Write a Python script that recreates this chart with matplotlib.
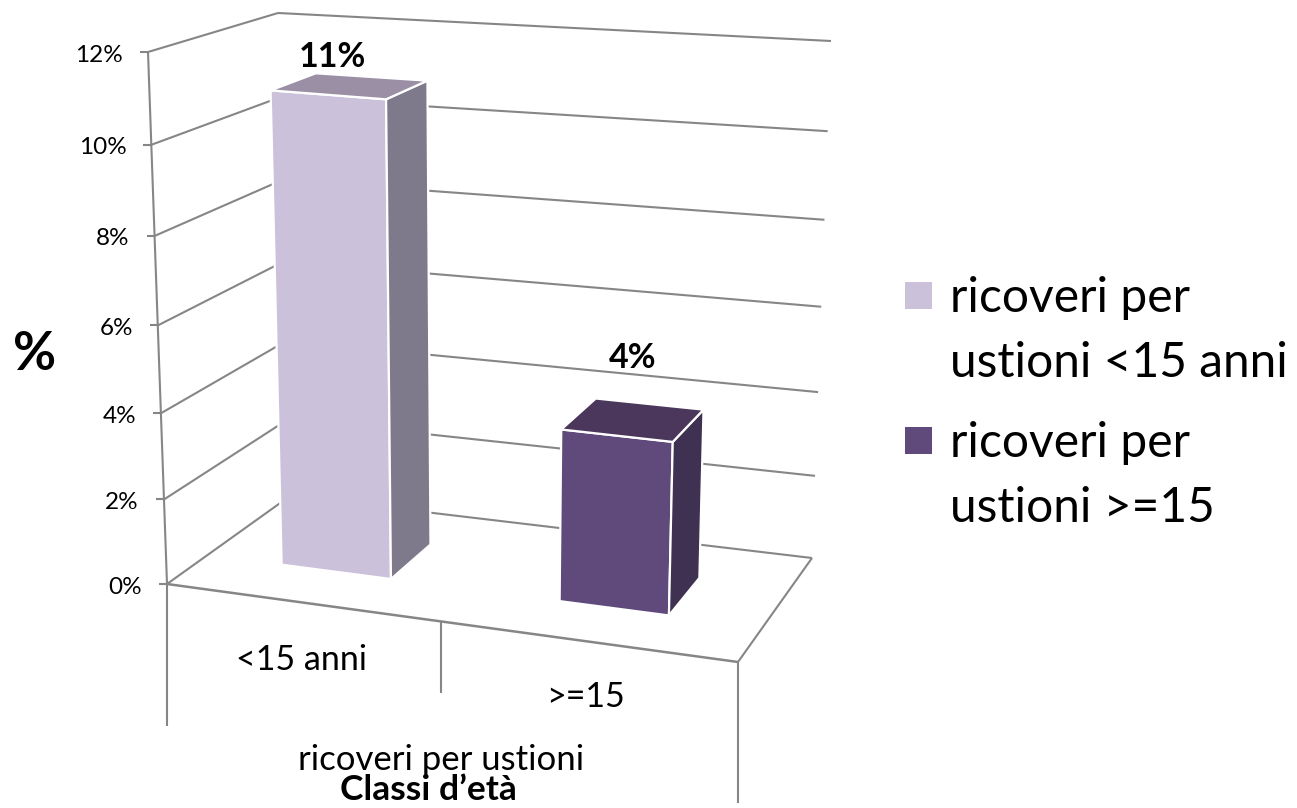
# 3D column chart of burn admissions by age class
import numpy as np
import matplotlib.pyplot as plt
from matplotlib.patches import Polygon, Rectangle

plt.rcParams['font.family'] = ['Lato', 'DejaVu Sans']

# Data
categories = ["<15 anni", ">=15"]
values = [11, 4]
value_labels = ["11%", "4%"]
series_names = ["ricoveri per\nustioni <15 anni", "ricoveri per\nustioni >=15"]
axis_ticks = [0, 2, 4, 6, 8, 10, 12]
axis_title = "ricoveri per ustioni"
x_title = "Classi d\u2019et\u00e0"
y_title = "%"

# Colours per bar: front, side, top
front_cols = ["#CCC1DA", "#604A7B"]
side_cols = ["#7F7A8B", "#3F3151"]
top_cols = ["#9A8FA5", "#4A375B"]
grid_col = "#868686"

# Pixel corners of the chart box, (u, v, z) in 0..1
# u runs along the categories, v runs into the page, z runs up
floor_px = {(0, 0): (167, 584), (1, 0): (738, 662), (1, 1): (812, 558), (0, 1): (290, 496)}
roof_px = {(0, 0): (148, 52), (1, 0): (755, 102), (1, 1): (831, 41), (0, 1): (278, 13)}
zmax = 12
bar_centers = [0.232, 0.733]
bar_width = 0.197
bar_depth = (0.33, 0.70)
divider_u = 0.48


def proj(u, v, val):
    """Chart position to pixel, bilinear on the floor and roof, slight bend on z"""
    z = val / zmax
    z = z + 0.056 * z * (z - 1)
    def corners(c):
        a = np.array(c[(0, 0)], float) * (1 - u) + np.array(c[(1, 0)], float) * u
        b = np.array(c[(0, 1)], float) * (1 - u) + np.array(c[(1, 1)], float) * u
        return a * (1 - v) + b * v
    return corners(floor_px) * (1 - z) + corners(roof_px) * z


def seg(ax, p, q, lw=1.5, col=grid_col, zorder=1):
    ax.plot([p[0], q[0]], [p[1], q[1]], color=col, lw=lw, zorder=zorder,
            solid_capstyle='butt')


fig = plt.figure(figsize=(12.97, 8.08), dpi=100)
ax = fig.add_axes([0, 0, 1, 1])
ax.set_xlim(0, 1297)
ax.set_ylim(808, 0)
ax.axis('off')

# Walls and gridlines
for t in axis_ticks:
    front = proj(0, 0, t)
    back = proj(0, 1, t)
    right = proj(1, 1, t)
    seg(ax, front, back)
    seg(ax, back, right)
    seg(ax, front + [-8, 0], front)
    ax.text(front[0] - 25, front[1] + 3, "%d%%" % t, ha='right', va='center',
            fontsize=17.5, color='black')
seg(ax, proj(0, 0, 0), proj(0, 0, zmax))

# Floor front and right edge, drop lines under the categories
seg(ax, proj(0, 0, 0), proj(1, 0, 0), lw=1.8)
seg(ax, proj(1, 0, 0), proj(1, 1, 0))
for u, drop in [(0, 142), (divider_u, 72), (1, 141)]:
    p = proj(u, 0, 0)
    seg(ax, p, p + [0, drop])

# Bars
for i, val in enumerate(values):
    u0 = bar_centers[i] - bar_width / 2
    u1 = bar_centers[i] + bar_width / 2
    v0, v1 = bar_depth
    faces = [
        ([(u0, v0, 0), (u1, v0, 0), (u1, v0, val), (u0, v0, val)], front_cols[i]),
        ([(u1, v0, 0), (u1, v1, 0), (u1, v1, val), (u1, v0, val)], side_cols[i]),
        ([(u0, v0, val), (u1, v0, val), (u1, v1, val), (u0, v1, val)], top_cols[i]),
    ]
    for pts, col in faces:
        xy = [proj(*p) for p in pts]
        ax.add_patch(Polygon(xy, closed=True, facecolor=col, edgecolor='white',
                             lw=1.6, zorder=3, joinstyle='round'))

# Value labels
for lab, (x, y) in zip(value_labels, [(332, 57), (633, 358)]):
    ax.text(x, y, lab, ha='center', va='center', fontsize=24.5, fontweight='bold', zorder=4)

# Category labels and titles
for lab, (x, y) in zip(categories, [(301, 660), (586, 697)]):
    ax.text(x, y, lab, ha='center', va='center', fontsize=24.5)
ax.text(441, 760, axis_title, ha='center', va='center', fontsize=25)
ax.text(428, 790, x_title, ha='center', va='center', fontsize=25.5, fontweight='bold')
ax.text(35, 354, y_title, ha='center', va='center', fontsize=38, fontweight='bold')

# Legend
legend_y = [282, 427]
for i, name in enumerate(series_names):
    y0 = legend_y[i]
    ax.add_patch(Rectangle((905, y0), 27, 27, facecolor=front_cols[i], edgecolor='none'))
    for j, line in enumerate(name.split("\n")):
        ax.text(950, y0 + 30 + j * 65, line, ha='left', va='baseline', fontsize=34.5)

fig.savefig("out.png", dpi=100)
